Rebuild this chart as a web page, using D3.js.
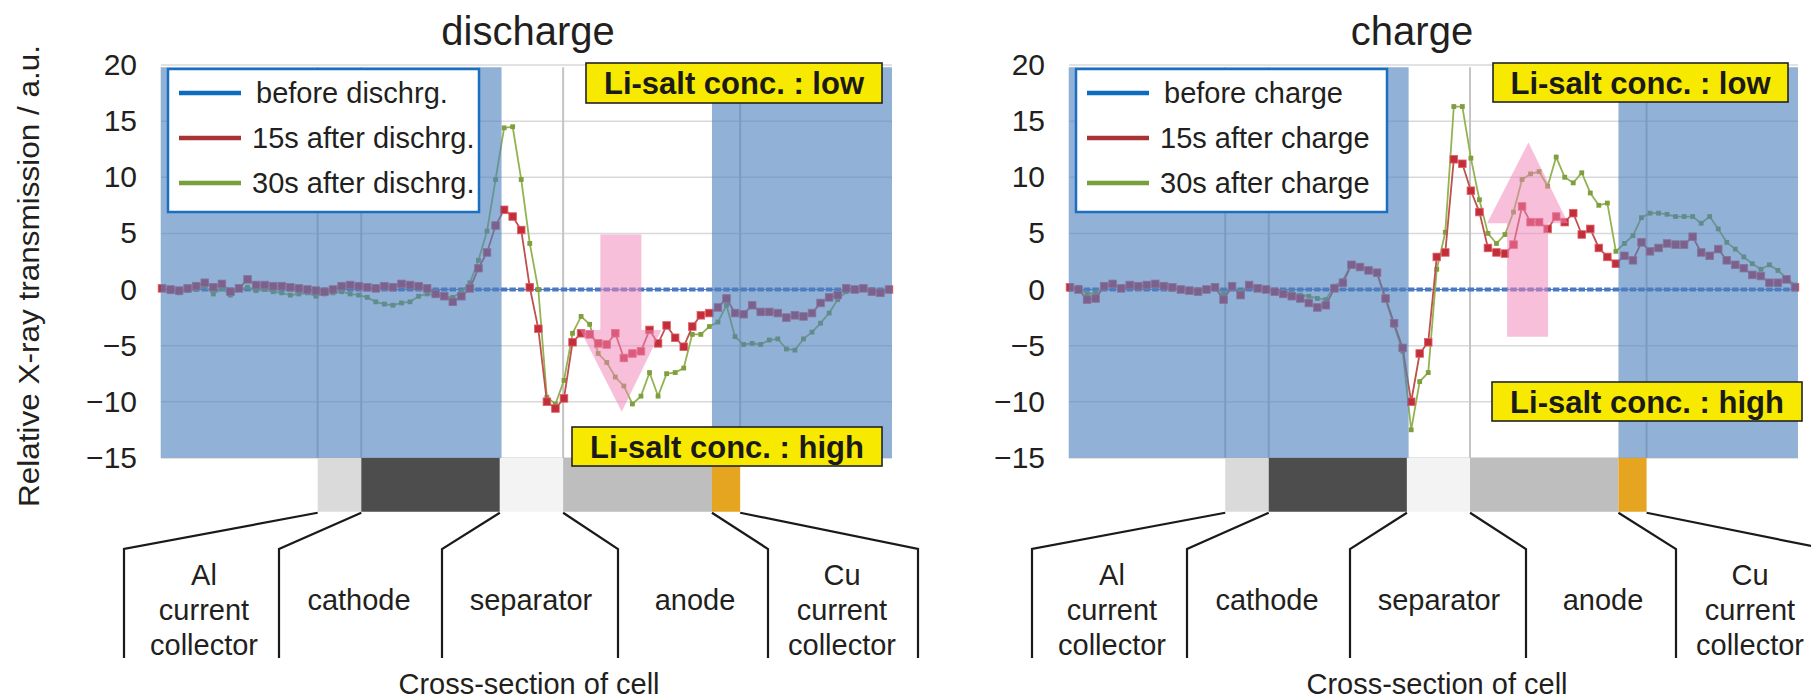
<!DOCTYPE html>
<html>
<head>
<meta charset="utf-8">
<script src="https://cdn.jsdelivr.net/npm/d3@7"></script>
<style>
  html, body { margin: 0; padding: 0; background: #fff; }
  svg { display: block; font-family: "Liberation Sans", Arial, Helvetica, sans-serif; }
</style>
</head>
<body>
<svg id="chart" width="1811" height="699"></svg>
<script>
// ---------------- data ----------------
// measurement points across the cell cross-section (point index)
const pointCount = 86;

// relative X-ray transmission (a.u.) — reference state is zero by definition
const beforeValues = [
  0,0,0,0,0,0,0,0,0,0, 0,0,0,0,0,0,0,0,0,0, 0,0,0,0,0,0,0,0,0,0,
  0,0,0,0,0,0,0,0,0,0, 0,0,0,0,0,0,0,0,0,0, 0,0,0,0,0,0,0,0,0,0,
  0,0,0,0,0,0,0,0,0,0, 0,0,0,0,0,0,0,0,0,0, 0,0,0,0,0,0
];

const discharge15s = [
  0.1, 0.0, -0.1, 0.1, 0.3, 0.6, 0.2, 0.5, -0.2, 0.1,
  0.9, 0.4, 0.4, 0.3, 0.3, 0.2, 0.1, 0.0, -0.1, -0.2,
  0.0, 0.3, 0.4, 0.3, 0.2, 0.1, 0.3, 0.2, 0.5, 0.4,
  0.3, 0.1, -0.4, -0.6, -1.1, -0.6, 0.1, 1.9, 3.3, 5.7,
  7.1, 6.5, 5.3, 0.2, -3.5, -10.0, -10.6, -9.7, -4.7, -3.9,
  -4.0, -4.8, -4.9, -3.9, -6.1, -5.7, -5.5, -3.6, -4.8, -3.2,
  -4.3, -5.1, -3.3, -2.3, -2.1, -1.6, -0.8, -2.1, -2.2, -1.4,
  -2.0, -2.0, -2.1, -2.5, -2.3, -2.4, -2.1, -1.2, -0.7, -0.5,
  0.1, 0.0, 0.1, -0.2, -0.3, 0.0
];

const discharge30s = [
  0.0, -0.2, -0.3, -0.1, 0.0, 0.3, -0.4, 0.1, -0.5, 0.0,
  0.2, -0.1, 0.0, -0.2, -0.3, -0.5, -0.4, -0.3, -0.6, -0.4,
  -0.3, -0.2, -0.4, -0.5, -0.7, -1.1, -1.3, -1.4, -1.2, -1.1,
  -0.6, -0.4, -0.5, -0.6, -0.7, -0.2, 0.6, 2.6, 5.2, 9.8,
  14.4, 14.5, 9.8, 4.1, 0.0, -9.6, -10.2, -8.1, -3.9, -2.4,
  -3.1, -5.7, -6.5, -7.8, -8.6, -10.2, -9.5, -7.4, -9.5, -7.5,
  -7.4, -7.0, -4.0, -4.0, -3.3, -2.9, -1.4, -4.2, -4.9, -4.8,
  -4.9, -4.5, -4.4, -5.3, -5.4, -4.4, -3.8, -3.0, -2.1, -0.9,
  -0.2, 0.1, 0.2, 0.0, -0.2, 0.0
];

const charge15s = [
  0.2, 0.0, -0.9, -0.8, 0.3, 0.5, 0.1, 0.4, 0.3, 0.4,
  0.5, 0.3, 0.2, 0.0, -0.1, -0.2, 0.0, 0.2, -0.9, 0.3,
  -0.5, 0.4, 0.1, 0.0, -0.2, -0.4, -0.6, -0.8, -1.2, -1.6,
  -1.4, 0.1, 0.6, 2.2, 2.0, 1.7, 1.5, -0.8, -3.0, -5.2,
  -10.0, -5.7, -4.7, 2.9, 3.3, 11.6, 11.2, 8.8, 6.9, 3.7,
  3.3, 3.2, 4.0, 7.4, 6.0, 6.0, 5.4, 6.5, 6.0, 6.8,
  4.9, 5.4, 3.7, 2.9, 2.3, 3.0, 2.6, 4.2, 3.4, 3.7,
  4.1, 4.0, 4.0, 4.7, 3.3, 3.0, 3.6, 2.6, 2.2, 1.9,
  1.3, 1.2, 0.6, 0.6, 0.9, 0.2
];

const charge30s = [
  0.0, 0.2, -0.4, -0.3, 0.3, 0.4, 0.0, 0.3, 0.2, 0.4,
  0.3, 0.2, 0.0, 0.1, -0.1, 0.0, 0.1, 0.3, -0.4, 0.2,
  -0.2, 0.3, 0.2, 0.0, -0.1, -0.2, -0.3, -0.5, -0.6, -0.8,
  -0.9, 0.3, 0.8, 2.3, 2.1, 1.8, 1.4, -0.9, -3.2, -5.5,
  -12.5, -8.2, -7.4, 1.8, 5.1, 16.3, 16.3, 11.7, 8.0, 5.0,
  4.1, 4.9, 6.9, 9.8, 10.3, 10.5, 9.2, 11.8, 10.0, 9.5,
  10.4, 8.6, 7.5, 7.7, 3.4, 4.1, 4.8, 6.4, 6.8, 6.8,
  6.7, 6.5, 6.5, 6.5, 5.9, 6.5, 5.4, 4.2, 3.6, 2.9,
  2.3, 1.8, 2.2, 1.7, 1.0, 0.4
];

const dischargeLegend = ["before dischrg.", "15s after dischrg.", "30s after dischrg."];
const chargeLegend = ["before charge", "15s after charge", "30s after charge"];
const panelTitles = ["discharge", "charge"];

const yTicks = [-15, -10, -5, 0, 5, 10, 15, 20];
const yLabel = "Relative X-ray transmission / a.u.";
const xLabel = "Cross-section of cell";

// cell layers along the cross-section, edges in point-index units
const layerEdges = [18.2, 23.3, 39.5, 46.9, 64.3, 67.6];
const layerLabels = [["Al", "current", "collector"], ["cathode"], ["separator"], ["anode"], ["Cu", "current", "collector"]];
// electrode regions shaded in the plot (point-index units)
const electrodeBands = [[-0.15, 39.7], [64.3, 85.35]];
// boundaries drawn as vertical grid lines
const boundaryLines = [18.2, 23.3, 46.9, 67.6];

// concentration-change arrows: [tail value, head-base value, tip value]
const dischargeArrow = [4.9, -3.6, -10.9];
const chargeArrow = [-4.2, 5.9, 13.1];
const arrowShaft = [51.25, 56.05];
const arrowHead = [48.9, 58.4];
const arrowTip = 53.75;

const saltLow = "Li-salt conc. : low";
const saltHigh = "Li-salt conc. : high";

// ---------------- styles ----------------
const textColor = "#231f20";
const blueColor = "#4a78c2", redColor = "#c22f3a", greenColor = "#93b352";
const legendColors = ["#0b6cc0", "#a93232", "#77a03c"];
const layerFills = ["#dadada", "#4d4d4d", "#f3f3f3", "#bebebe", "#e6a521"];

const svg = d3.select("#chart");

const y = d3.scaleLinear().domain([-20, 20]).range([514, 65]);

const panels = [
  { left: 161, right: 892, title: panelTitles[0], titleX: 528, legend: dischargeLegend,
    s15: discharge15s, s30: discharge30s, arrow: dischargeArrow,
    lowBox: [425, 721, 63, 103], highBox: [411, 721, 427, 466] },
  { left: 1069, right: 1798, title: panelTitles[1], titleX: 1412, legend: chargeLegend,
    s15: charge15s, s30: charge30s, arrow: chargeArrow,
    lowBox: [424, 719, 63, 102], highBox: [423, 733, 382, 421] }
];

// label columns below the plot, offsets from the plot's left edge
const connectorEnds = [-37, 118, 281, 457, 607, 757];
const labelCenters = [43, 198, 370, 534, 681];

panels.forEach(p => {
  const g = svg.append("g");
  const x = d3.scaleLinear().domain([0, pointCount - 1]).range([p.left + 1, p.right - 3]);

  // title
  g.append("text")
    .attr("x", p.titleX).attr("y", 45)
    .attr("text-anchor", "middle")
    .attr("font-size", 40).attr("fill", textColor)
    .text(p.title);

  // horizontal grid
  g.append("g").selectAll("line").data(yTicks).join("line")
    .attr("x1", p.left).attr("x2", p.right)
    .attr("y1", d => y(d)).attr("y2", d => y(d))
    .attr("stroke", "#d9d9d9").attr("stroke-width", 1.5);

  // boundary grid lines
  g.append("g").selectAll("line").data(boundaryLines).join("line")
    .attr("x1", d => x(d)).attr("x2", d => x(d))
    .attr("y1", y(19.8)).attr("y2", y(-15))
    .attr("stroke", "#c4c4c4").attr("stroke-width", 2);

  // cell layer strip below -15
  const layers = layerFills.map((c, i) => ({ x0: layerEdges[i], x1: layerEdges[i + 1], fill: c }));
  g.append("g").selectAll("rect").data(layers).join("rect")
    .attr("x", d => x(d.x0)).attr("width", d => x(d.x1) - x(d.x0))
    .attr("y", y(-15)).attr("height", y(-19.8) - y(-15))
    .attr("fill", d => d.fill);

  // y axis
  const axis = d3.axisLeft(y).tickValues(yTicks).tickSize(0).tickPadding(24);
  const ag = g.append("g").attr("transform", `translate(${p.left},0)`).call(axis);
  ag.select(".domain").remove();
  ag.selectAll("text")
    .attr("font-size", 30).attr("fill", textColor)
    .attr("font-family", "'Liberation Sans', Arial, sans-serif");

  // series
  const line = d3.line().x((d, i) => x(i)).y(d => y(d));

  // before (flat reference)
  g.append("path").datum(beforeValues).attr("d", line)
    .attr("fill", "none").attr("stroke", blueColor).attr("stroke-width", 1.2);
  g.append("g").selectAll("rect").data(beforeValues).join("rect")
    .attr("x", (d, i) => x(i) - 3.2).attr("y", d => y(d) - 2)
    .attr("width", 6.4).attr("height", 4).attr("fill", blueColor);

  // 30 s
  g.append("path").datum(p.s30).attr("d", line)
    .attr("fill", "none").attr("stroke", greenColor).attr("stroke-width", 1.8);
  g.append("g").selectAll("rect").data(p.s30).join("rect")
    .attr("x", (d, i) => x(i) - 2.4).attr("y", d => y(d) - 2.4)
    .attr("width", 4.8).attr("height", 4.8).attr("fill", "#7f9e3e");

  // 15 s
  g.append("path").datum(p.s15).attr("d", line)
    .attr("fill", "none").attr("stroke", "#c0504d").attr("stroke-width", 1.8);
  g.append("g").selectAll("rect").data(p.s15).join("rect")
    .attr("x", (d, i) => x(i) - 3.8).attr("y", d => y(d) - 3.8)
    .attr("width", 7.6).attr("height", 7.6).attr("fill", redColor)
    .attr("stroke", "#e0606a").attr("stroke-width", 0.8);

  // electrode shading over the traces
  g.append("g").selectAll("rect").data(electrodeBands).join("rect")
    .attr("x", d => x(d[0])).attr("width", d => x(d[1]) - x(d[0]))
    .attr("y", y(19.8)).attr("height", y(-15) - y(19.8))
    .attr("fill", "#4f81bd").attr("fill-opacity", 0.62);

  // arrow
  const a = p.arrow;
  const arrowPts = [
    [arrowShaft[0], a[0]], [arrowShaft[1], a[0]], [arrowShaft[1], a[1]],
    [arrowHead[1], a[1]], [arrowTip, a[2]], [arrowHead[0], a[1]], [arrowShaft[0], a[1]]
  ];
  g.append("path")
    .attr("d", "M" + arrowPts.map(q => `${x(q[0])},${y(q[1])}`).join("L") + "Z")
    .attr("fill", "#f084b8").attr("fill-opacity", 0.52);

  // legend
  const lg = g.append("g").attr("transform", `translate(${p.left + 7},69)`);
  lg.append("rect").attr("width", 311).attr("height", 143)
    .attr("fill", "#fff").attr("stroke", "#1a6fc0").attr("stroke-width", 2.5);
  p.legend.forEach((name, i) => {
    const ly = 24 + i * 45;
    lg.append("line").attr("x1", 11).attr("x2", 73).attr("y1", ly).attr("y2", ly)
      .attr("stroke", legendColors[i]).attr("stroke-width", 4.5);
    lg.append("text").attr("x", i === 0 ? 88 : 84).attr("y", ly).attr("dy", "0.35em")
      .attr("font-size", 29).attr("fill", textColor).text(name);
  });

  // Li-salt concentration tags
  [[p.lowBox, saltLow], [p.highBox, saltHigh]].forEach(([b, t]) => {
    g.append("rect")
      .attr("x", p.left + b[0]).attr("y", b[2])
      .attr("width", b[1] - b[0]).attr("height", b[3] - b[2])
      .attr("fill", "#f7ea00").attr("stroke", "#222").attr("stroke-width", 1.6);
    g.append("text")
      .attr("x", p.left + (b[0] + b[1]) / 2).attr("y", (b[2] + b[3]) / 2)
      .attr("dy", "0.36em").attr("text-anchor", "middle")
      .attr("font-size", 31).attr("font-weight", "bold").attr("fill", "#1a1a1a")
      .text(t);
  });

  // connectors from layer edges down to label columns
  const cg = g.append("g").attr("fill", "none").attr("stroke", "#1a1a1a").attr("stroke-width", 2.2);
  layerEdges.forEach((e, i) => {
    const ex = p.left + connectorEnds[i];
    cg.append("path").attr("d", `M${x(e)},${y(-19.8) + 1}L${ex},549L${ex},658`);
  });

  // layer labels
  layerLabels.forEach((lines, i) => {
    const cx = p.left + labelCenters[i];
    const ys = lines.length === 1 ? [600] : [575, 610, 645];
    lines.forEach((t, j) => {
      g.append("text").attr("x", cx).attr("y", ys[j]).attr("dy", "0.36em")
        .attr("text-anchor", "middle").attr("font-size", 29).attr("fill", textColor).text(t);
    });
  });

  // x label
  g.append("text").attr("x", p.left + 368).attr("y", 694)
    .attr("text-anchor", "middle").attr("font-size", 29).attr("fill", textColor).text(xLabel);
});

// y label
svg.append("text")
  .attr("transform", "translate(28,276) rotate(-90)")
  .attr("text-anchor", "middle").attr("dy", "0.35em")
  .attr("font-size", 30).attr("fill", textColor)
  .attr("textLength", 462).attr("lengthAdjust", "spacingAndGlyphs")
  .text(yLabel);
</script>
</body>
</html>
